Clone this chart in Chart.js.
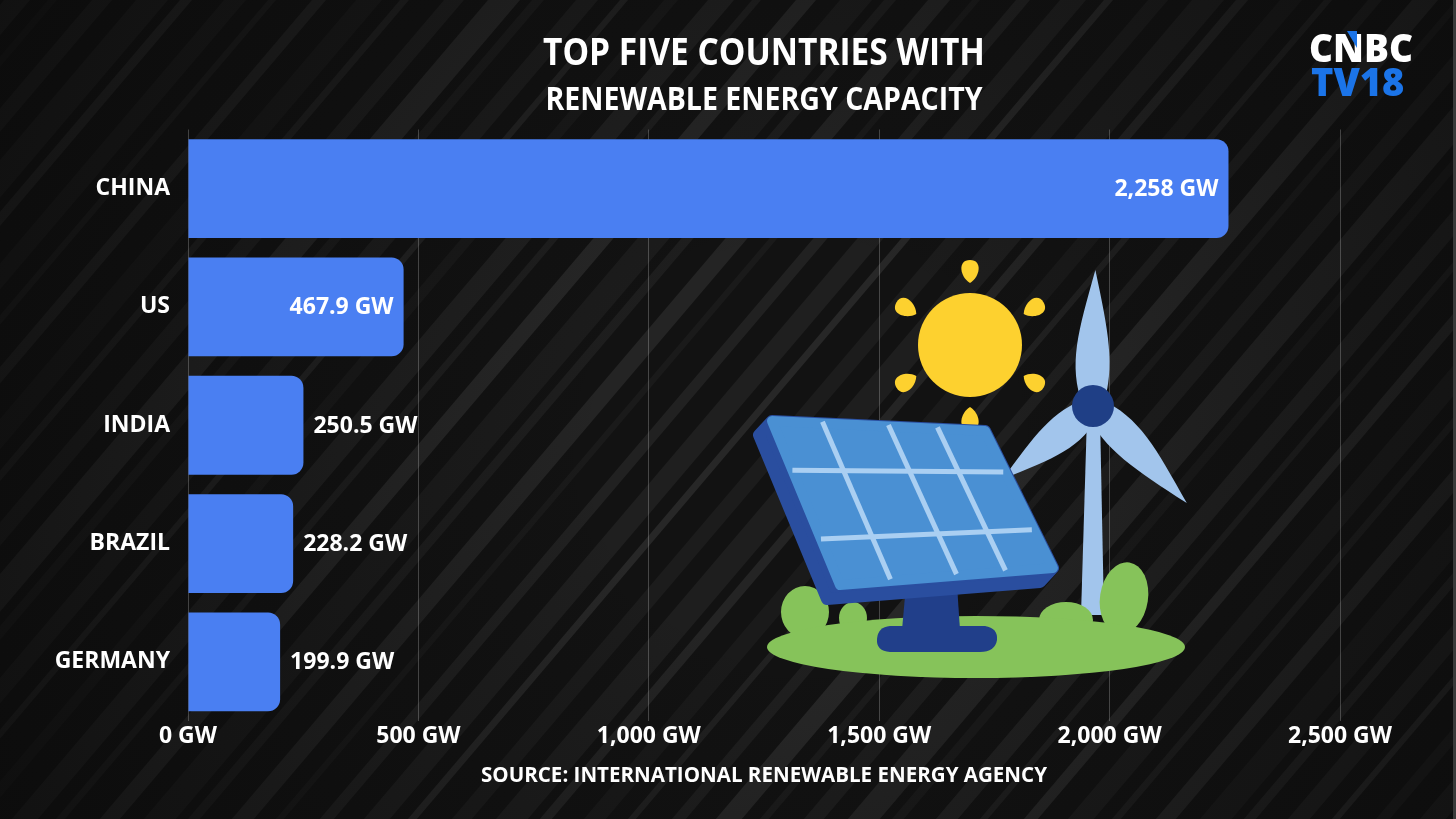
<!DOCTYPE html>
<html>
<head>
<meta charset="utf-8">
<script src="https://cdn.jsdelivr.net/npm/chart.js@4.4.1/dist/chart.umd.min.js"></script>
<style>
  html, body { margin: 0; padding: 0; background: #121212; }
  #wrap { width: 1456px; height: 819px; }
</style>
</head>
<body>
<div id="wrap"><canvas id="barChart" width="1456" height="819"></canvas></div>
<script>
// data
const countries = ['CHINA', 'US', 'INDIA', 'BRAZIL', 'GERMANY'];
const capacityGW = [2258, 467.9, 250.5, 228.2, 199.9];
const axisTicks = [0, 500, 1000, 1500, 2000, 2500];
const titleLines = ['TOP FIVE COUNTRIES WITH', 'RENEWABLE ENERGY CAPACITY'];
const sourceText = 'SOURCE: INTERNATIONAL RENEWABLE ENERGY AGENCY';

const FONT = '"Open Sans", "DejaVu Sans", sans-serif';
const fmtGW = v => v.toLocaleString('en-US') + ' GW';

// striped dark background
const backgroundPlugin = {
    id: 'stripes',
    beforeDraw(chart) {
        const ctx = chart.ctx, W = chart.width, H = chart.height;
        ctx.save();
        ctx.fillStyle = '#121212';
        ctx.fillRect(0, 0, W, H);
        const slope = 0.85;
        const widths = [14, 26, 9, 20, 32, 12, 22, 8];
        const alphas = [0.05, 0.08, 0.035, 0.065, 0.055, 0.09, 0.045];
        let i = 0;
        for (let o = -40; o < W + slope * H + 60; o += 44) {
            const w = widths[i % widths.length];
            ctx.fillStyle = 'rgba(255,255,255,' + alphas[i % alphas.length] + ')';
            ctx.beginPath();
            ctx.moveTo(o, 0);
            ctx.lineTo(o + w, 0);
            ctx.lineTo(o + w - slope * H, H);
            ctx.lineTo(o - slope * H, H);
            ctx.closePath();
            ctx.fill();
            i++;
        }
        // darken the edges a little
        const g = ctx.createRadialGradient(W * 0.55, H * 0.55, 200, W * 0.55, H * 0.55, 950);
        g.addColorStop(0, 'rgba(10,10,10,0)');
        g.addColorStop(1, 'rgba(10,10,10,0.75)');
        ctx.fillStyle = g;
        ctx.fillRect(0, 0, W, H);
        ctx.fillStyle = '#3a3a3a';
        ctx.fillRect(W - 3, 0, 3, H);
        ctx.restore();
    }
};

// solar panel, sun and wind turbine
function drawIllustration(ctx) {
    ctx.save();
    // sun
    const sx = 970, sy = 345;
    ctx.fillStyle = '#fdd12f';
    ctx.beginPath();
    ctx.arc(sx, sy, 52, 0, Math.PI * 2);
    ctx.fill();
    [-90, -30, 30, 90, 150, 210].forEach(a => {
        const r = a * Math.PI / 180;
        ctx.save();
        ctx.translate(sx + Math.cos(r) * 73, sy + Math.sin(r) * 73);
        ctx.rotate(r + Math.PI / 2);
        ctx.beginPath();
        ctx.moveTo(0, -12);
        ctx.bezierCurveTo(13, -12, 10, 5, 0, 11);
        ctx.bezierCurveTo(-10, 5, -13, -12, 0, -12);
        ctx.fill();
        ctx.restore();
    });

    // turbine
    const hx = 1093, hy = 406;
    ctx.fillStyle = '#a2c5ec';
    ctx.beginPath();
    ctx.moveTo(hx - 6, hy + 10);
    ctx.lineTo(hx + 7, hy + 10);
    ctx.lineTo(hx + 11, 615);
    ctx.lineTo(hx - 12, 615);
    ctx.closePath();
    ctx.fill();
    function blade(angDeg, len) {
        ctx.save();
        ctx.translate(hx, hy);
        ctx.rotate(angDeg * Math.PI / 180);
        ctx.beginPath();
        ctx.moveTo(0, -10);
        ctx.bezierCurveTo(len * 0.3, -26, len * 0.55, -16, len, 0);
        ctx.bezierCurveTo(len * 0.55, 14, len * 0.3, 22, 0, 10);
        ctx.closePath();
        ctx.fill();
        ctx.restore();
    }
    blade(-89, 136);
    blade(141, 116);
    blade(46, 135);
    ctx.fillStyle = '#1f3f86';
    ctx.beginPath();
    ctx.arc(hx, hy, 21, 0, Math.PI * 2);
    ctx.fill();

    // bushes and ground
    ctx.fillStyle = '#86c35a';
    ctx.beginPath();
    ctx.ellipse(805, 612, 24, 26, 0, 0, Math.PI * 2);
    ctx.ellipse(853, 618, 14, 16, 0, 0, Math.PI * 2);
    ctx.fill();
    ctx.beginPath();
    ctx.ellipse(1124, 598, 24, 36, 0.15, 0, Math.PI * 2);
    ctx.fill();
    ctx.beginPath();
    ctx.ellipse(1066, 620, 27, 18, 0, 0, Math.PI * 2);
    ctx.fill();
    ctx.beginPath();
    ctx.ellipse(976, 647, 209, 31, 0, 0, Math.PI * 2);
    ctx.fill();

    // stand
    ctx.fillStyle = '#213f8a';
    ctx.beginPath();
    ctx.moveTo(906, 585);
    ctx.lineTo(957, 585);
    ctx.lineTo(960, 630);
    ctx.lineTo(902, 630);
    ctx.closePath();
    ctx.fill();
    ctx.beginPath();
    ctx.moveTo(890, 626);
    ctx.lineTo(985, 626);
    ctx.quadraticCurveTo(998, 628, 997, 640);
    ctx.quadraticCurveTo(995, 652, 980, 652);
    ctx.lineTo(890, 652);
    ctx.quadraticCurveTo(876, 651, 877, 639);
    ctx.quadraticCurveTo(878, 627, 890, 626);
    ctx.fill();

    // panel frame
    const TL = [772, 421], TR = [985, 431], BR = [1053, 568], BL = [840, 585];
    const s = [-13, 14];
    const sh = p => [p[0] + s[0], p[1] + s[1]];
    const poly = (pts, fill, round) => {
        ctx.beginPath();
        pts.forEach((p, k) => k ? ctx.lineTo(p[0], p[1]) : ctx.moveTo(p[0], p[1]));
        ctx.closePath();
        ctx.fillStyle = fill;
        ctx.strokeStyle = fill;
        ctx.lineJoin = 'round';
        ctx.lineWidth = round;
        ctx.fill();
        ctx.stroke();
    };
    poly([sh(TL), TL, TR, BR, sh(BR), sh(BL)], '#2a4e9f', 12);
    poly([TL, TR, BR, BL], '#4a90d3', 10);
    // cell grid
    const P = (u, v) => [
        TL[0] * (1 - u) * (1 - v) + TR[0] * u * (1 - v) + BR[0] * u * v + BL[0] * (1 - u) * v,
        TL[1] * (1 - u) * (1 - v) + TR[1] * u * (1 - v) + BR[1] * u * v + BL[1] * (1 - u) * v
    ];
    ctx.strokeStyle = '#aacff2';
    ctx.lineWidth = 5;
    ctx.lineCap = 'butt';
    [0.24, 0.55, 0.78].forEach(u => {
        const a = P(u, -0.01), b = P(u, 0.99);
        ctx.beginPath(); ctx.moveTo(a[0], a[1]); ctx.lineTo(b[0], b[1]); ctx.stroke();
    });
    [0.3, 0.72].forEach(v => {
        const a = P(0.0, v), b = P(0.99, v);
        ctx.beginPath(); ctx.moveTo(a[0], a[1]); ctx.lineTo(b[0], b[1]); ctx.stroke();
    });
    ctx.restore();
}

const illustrationPlugin = {
    id: 'illustration',
    afterDatasetsDraw(chart) {
        drawIllustration(chart.ctx);
    }
};

// value labels at bar ends
const valueLabelPlugin = {
    id: 'valueLabels',
    afterDatasetsDraw(chart) {
        const ctx = chart.ctx;
        const meta = chart.getDatasetMeta(0);
        ctx.save();
        ctx.font = 'bold 23px ' + FONT;
        ctx.fillStyle = '#ffffff';
        ctx.textBaseline = 'middle';
        meta.data.forEach((bar, i) => {
            const v = capacityGW[i];
            const text = fmtGW(v);
            const w = ctx.measureText(text).width;
            if (bar.x - bar.base > w + 40) {
                ctx.textAlign = 'right';
                ctx.fillText(text, bar.x - 10, bar.y + 1);
            } else {
                ctx.textAlign = 'left';
                ctx.fillText(text, bar.x + 10, bar.y + 1);
            }
        });
        ctx.restore();
    }
};

// titles, source and logo
const textPlugin = {
    id: 'texts',
    afterDraw(chart) {
        const ctx = chart.ctx;
        const cx = (chart.chartArea.left + chart.chartArea.right) / 2;
        ctx.save();
        ctx.fillStyle = '#ffffff';
        ctx.textAlign = 'center';
        ctx.textBaseline = 'alphabetic';
        ctx.font = 'bold 38px ' + FONT;
        ctx.fillText(titleLines[0], cx, 65, 442);
        ctx.font = 'bold 32px ' + FONT;
        ctx.fillText(titleLines[1], cx, 110, 437);
        ctx.font = 'bold 21px ' + FONT;
        ctx.fillText(sourceText, cx, 782, 566);

        ctx.textAlign = 'left';
        ctx.font = '800 38px ' + FONT;
        ctx.fillText('CNBC', 1309, 62, 104);
        ctx.fillStyle = '#1b74e8';
        ctx.beginPath();
        ctx.moveTo(1347, 31);
        ctx.lineTo(1357, 31);
        ctx.lineTo(1357, 48);
        ctx.closePath();
        ctx.fill();
        ctx.font = '800 38px ' + FONT;
        ctx.fillText('TV18', 1311, 96, 103);
        ctx.restore();
    }
};

const ctx = document.getElementById('barChart').getContext('2d');
new Chart(ctx, {
    type: 'bar',
    data: {
        labels: countries,
        datasets: [{
            label: 'Renewable energy capacity (GW)',
            data: capacityGW,
            backgroundColor: '#4a7ff2',
            borderRadius: 12,
            borderSkipped: 'start',
            categoryPercentage: 1,
            barPercentage: 0.835
        }]
    },
    options: {
        indexAxis: 'y',
        responsive: false,
        devicePixelRatio: 1,
        animation: false,
        layout: { padding: { top: 129.5, right: 116, bottom: 0, left: 0 } },
        plugins: {
            legend: { display: false },
            tooltip: { enabled: false }
        },
        scales: {
            x: {
                min: 0,
                max: 2500,
                afterBuildTicks: scale => { scale.ticks = axisTicks.map(v => ({ value: v })); },
                afterFit: scale => { scale.height = 98; },
                border: { display: false },
                grid: { color: 'rgba(255,255,255,0.22)', lineWidth: 1, drawTicks: false },
                ticks: {
                    color: '#ffffff',
                    padding: 2,
                    maxRotation: 0,
                    font: { family: FONT, size: 23, weight: 'bold' },
                    callback: v => fmtGW(v)
                }
            },
            y: {
                afterFit: scale => { scale.width = 188; },
                border: { display: false },
                grid: { display: false },
                ticks: {
                    color: '#ffffff',
                    padding: 10,
                    font: { family: FONT, size: 23, weight: 'bold' }
                }
            }
        }
    },
    plugins: [backgroundPlugin, illustrationPlugin, valueLabelPlugin, textPlugin]
});
</script>
</body>
</html>
